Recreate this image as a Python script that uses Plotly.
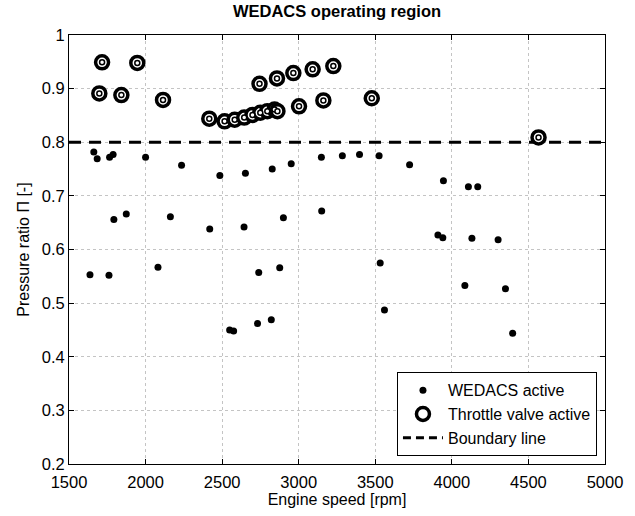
import plotly.graph_objects as go

# WEDACS active points
wedacs_rpm = [1662, 1684, 1765, 1788, 2000, 2235, 2485, 2652, 2827, 2951, 3148, 3285, 3397, 3525, 3724, 3945, 4108, 4169,
              1793, 1874, 2162, 2419, 2643, 2900, 3150, 3909, 3941, 4131, 4302,
              1637, 1761, 2081, 2739, 2876, 3532, 4085, 4350, 3560,
              2549, 2575, 2731, 2821, 4397]
wedacs_pr = [0.782, 0.769, 0.772, 0.777, 0.772, 0.757, 0.738, 0.742, 0.750, 0.760, 0.772, 0.775, 0.777, 0.775, 0.758, 0.728, 0.717, 0.717,
             0.656, 0.666, 0.661, 0.638, 0.642, 0.659, 0.672, 0.627, 0.622, 0.621, 0.618,
             0.553, 0.552, 0.567, 0.557, 0.566, 0.575, 0.533, 0.527, 0.487,
             0.450, 0.448, 0.462, 0.469, 0.444]

# Throttle valve active points
throttle_rpm = [1716, 1698, 1842, 1946, 2114, 2416, 2516, 2582, 2644, 2698, 2749, 2795, 2842, 2861,
                2744, 2858, 2965, 3091, 3226, 3002, 3161, 3477, 4566]
throttle_pr = [0.949, 0.891, 0.888, 0.948, 0.879, 0.844, 0.839, 0.842, 0.846, 0.851, 0.855, 0.858, 0.861, 0.858,
               0.909, 0.919, 0.929, 0.936, 0.942, 0.867, 0.878, 0.882, 0.809]

boundary_rpm = [1500, 5000]
boundary_pr = [0.8, 0.8]

x_ticks = [1500, 2000, 2500, 3000, 3500, 4000, 4500, 5000]
y_ticks = [0.2, 0.3, 0.4, 0.5, 0.6, 0.7, 0.8, 0.9, 1.0]
y_tick_text = ["0.2", "0.3", "0.4", "0.5", "0.6", "0.7", "0.8", "0.9", "1"]

FONT = "Liberation Sans, Arial, sans-serif"

fig = go.Figure()

fig.add_trace(go.Scatter(
    x=boundary_rpm, y=boundary_pr, mode="lines", name="Boundary line",
    line=dict(color="black", width=3, dash="12px,8px"), showlegend=False))

fig.add_trace(go.Scatter(
    x=wedacs_rpm, y=wedacs_pr, mode="markers", name="WEDACS active",
    marker=dict(color="black", size=7, symbol="circle")))

fig.add_trace(go.Scatter(
    x=throttle_rpm, y=throttle_pr, mode="markers", name="Throttle valve active",
    marker=dict(color="white", size=13, symbol="circle",
                line=dict(color="black", width=3.5))))

fig.add_trace(go.Scatter(
    x=throttle_rpm, y=throttle_pr, mode="markers", showlegend=False, hoverinfo="skip",
    marker=dict(color="white", size=5, symbol="circle",
                line=dict(color="black", width=1.5))))

# legend-only boundary entry (keeps legend order)
fig.add_trace(go.Scatter(
    x=[None], y=[None], mode="lines", name="Boundary line",
    line=dict(color="black", width=3, dash="8px,5px")))

axis_common = dict(
    showline=True, linecolor="black", linewidth=1, mirror="ticks",
    ticks="inside", ticklen=5, tickcolor="black",
    showgrid=True, gridcolor="#c4c4c4", gridwidth=1, griddash="dot",
    zeroline=False, tickfont=dict(family=FONT, size=16.5, color="black"),
)

fig.update_xaxes(range=[1500, 5000], tickvals=x_ticks, ticklabelstandoff=3,
                 title=dict(text="Engine speed [rpm]", font=dict(family=FONT, size=16, color="black"), standoff=2),
                 **axis_common)
fig.update_yaxes(range=[0.2, 1.0], tickvals=y_ticks, ticktext=y_tick_text,
                 title=dict(text="Pressure ratio Π [-]", font=dict(family=FONT, size=16, color="black"), standoff=8),
                 **axis_common)

fig.update_layout(
    width=635, height=516,
    margin=dict(l=69, r=20, t=35, b=49),
    paper_bgcolor="white", plot_bgcolor="white",
    title=dict(text="<b>WEDACS operating region</b>", x=0.5, xanchor="center",
               xref="paper", y=0.99, yanchor="top",
               font=dict(family=FONT, size=16.5, color="black")),
    legend=dict(x=0.985, y=0.018, xanchor="right", yanchor="bottom",
                bordercolor="black", borderwidth=1, bgcolor="white",
                font=dict(family=FONT, size=16, color="black"),
                tracegroupgap=0, itemwidth=40),
    showlegend=True,
)

fig.write_html("out.html")
